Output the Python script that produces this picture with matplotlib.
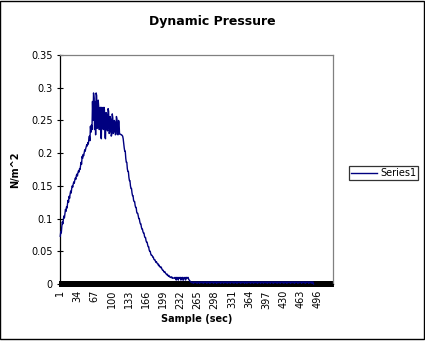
import matplotlib
matplotlib.use('Agg')
import matplotlib.pyplot as plt
from matplotlib.patches import Rectangle
import numpy as np

# Dynamic pressure per sample, in thousandths of N/m^2
pressure_milli = [
    73, 80, 78, 88, 95, 92, 99, 104, 101, 108,
    114, 111, 118, 116, 123, 128, 125, 134, 131, 138,
    142, 139, 146, 150, 148, 153, 156, 154, 159, 162,
    160, 166, 168, 165, 170, 173, 171, 176, 175, 180,
    186, 183, 195, 192, 198, 196, 201, 205, 203, 207,
    210, 213, 211, 216, 214, 222, 226, 219, 241, 232,
    243, 236, 279, 250, 292, 284, 236, 279, 228, 292,
    288, 238, 240, 281, 270, 236, 268, 270, 225, 222,
    270, 268, 238, 236, 270, 266, 224, 222, 262, 260,
    236, 234, 268, 264, 230, 232, 256, 252, 226, 228,
    260, 254, 230, 232, 250, 248, 228, 229, 256, 252,
    229, 228, 250, 248, 229, 229, 229, 228, 228, 227,
    226, 222, 215, 208, 203, 203, 192, 186, 186, 176,
    172, 172, 163, 158, 158, 150, 146, 146, 139, 135,
    135, 128, 126, 126, 120, 117, 117, 110, 108, 108,
    104, 100, 100, 95, 92, 92, 87, 84, 84, 80,
    78, 78, 73, 71, 71, 66, 64, 64, 60, 57,
    57, 52, 50, 50, 46, 44, 44, 43, 41, 41,
    38, 37, 37, 35, 33, 34, 32, 31, 31, 28,
    29, 27, 26, 25, 26, 24, 22, 21, 21, 19,
    18, 19, 17, 16, 15, 14, 15, 13, 12, 13,
    11, 11, 10, 10, 11, 9, 10, 9, 9, 9,
    10, 9, 10, 6, 10, 10, 9, 6, 10, 9,
    10, 10, 6, 9, 10, 10, 6, 6, 10, 9,
    10, 6, 10, 10, 9, 10, 10, 7, 6, 5,
    4, 3, 3, 2, 3, 3, 1, 3, 3, 2,
    3, 3, 3, 1, 3, 2, 3, 3, 1, 3,
    3, 2, 3, 3, 3, 1, 3, 3, 2, 3,
    3, 3, 1, 3, 3, 3, 2, 3, 1, 3,
    3, 3, 2, 3, 3, 1, 3, 3, 3, 2,
    3, 1, 3, 3, 2, 3, 3, 3, 1, 3,
    2, 3, 3, 3, 1, 3, 3, 2, 3, 3,
    3, 1, 3, 3, 2, 3, 3, 1, 3, 3,
    3, 2, 3, 3, 1, 3, 3, 3, 2, 3,
    1, 3, 3, 3, 2, 3, 3, 1, 3, 3,
    2, 3, 3, 3, 1, 3, 2, 3, 3, 1,
    3, 3, 3, 2, 3, 3, 1, 3, 3, 2,
    3, 3, 1, 3, 3, 3, 2, 3, 3, 1,
    3, 2, 3, 3, 3, 1, 3, 3, 2, 3,
    3, 1, 3, 3, 3, 2, 3, 3, 1, 3,
    3, 2, 3, 3, 1, 3, 3, 3, 2, 3,
    1, 3, 3, 2, 3, 3, 3, 1, 3, 3,
    2, 3, 3, 1, 3, 3, 3, 2, 3, 3,
    1, 3, 3, 3, 2, 3, 1, 3, 3, 3,
    2, 3, 3, 1, 3, 3, 2, 3, 3, 3,
    1, 3, 3, 2, 3, 3, 3, 1, 3, 3,
    2, 3, 3, 3, 1, 3, 3, 2, 3, 3,
    3, 1, 3, 3, 2, 3, 3, 3, 1, 3,
    3, 2, 3, 3, 1, 3, 3, 0,
]
n_categories = 525
x_tick_labels = ['1', '34', '67', '100', '133', '166', '199', '232', '265',
                 '298', '331', '364', '397', '430', '463', '496']
y_ticks = [0, 0.05, 0.1, 0.15, 0.2, 0.25, 0.3, 0.35]
y_tick_labels = ['0', '0.05', '0.1', '0.15', '0.2', '0.25', '0.3', '0.35']

pressure = np.array(pressure_milli) / 1000.0
samples = np.arange(1, len(pressure) + 1)

plt.rcParams['font.family'] = 'DejaVu Sans'

fig = plt.figure(figsize=(4.25, 3.41), dpi=100)
ax = fig.add_axes([60 / 425, 1 - 284 / 341, 273 / 425, 229 / 341])

ax.plot(samples, pressure, color='#000080', lw=1.0, label='Series1',
        zorder=3, clip_on=False)

ax.set_xlim(0.5, n_categories + 0.5)
ax.set_ylim(0, 0.35)

# one tick per category (merges into a solid band), labels every 33 samples
ax.set_xticks([int(t) for t in x_tick_labels])
ax.set_xticklabels(x_tick_labels, rotation=90, fontsize=7)
ax.set_xticks(np.arange(1, n_categories + 1), minor=True)
ax.tick_params(axis='x', which='both', direction='inout', length=4.7,
               width=1.4, pad=2, color='black')

ax.set_yticks(y_ticks)
ax.set_yticklabels(y_tick_labels, fontsize=7)
ax.tick_params(axis='y', direction='inout', length=4.5, width=0.8, pad=3)

for side in ['top', 'right']:
    ax.spines[side].set_color('#808080')
    ax.spines[side].set_linewidth(0.9)
for side in ['left', 'bottom']:
    ax.spines[side].set_color('black')
    ax.spines[side].set_linewidth(0.9)

ax.set_xlabel('Sample (sec)', fontsize=7, fontweight='bold', labelpad=4)
ax.set_ylabel('N/m^2', fontsize=7, fontweight='bold', labelpad=8)

fig.text(0.5, 1 - 22 / 341, 'Dynamic Pressure', ha='center', va='center',
         fontsize=9, fontweight='bold')

leg = fig.legend(loc='center left', bbox_to_anchor=(349 / 425, 1 - 173 / 341),
                 fontsize=7, frameon=True, fancybox=False, edgecolor='black',
                 borderpad=0.2, handlelength=2.7, handletextpad=0.3,
                 borderaxespad=0)
leg.get_frame().set_linewidth(0.9)

# outer chart border
fig.patches.append(Rectangle((0.001, 0.006), 0.997, 0.992, fill=False,
                             edgecolor='black', lw=1,
                             transform=fig.transFigure, figure=fig))

fig.savefig('out.png', dpi=100)
